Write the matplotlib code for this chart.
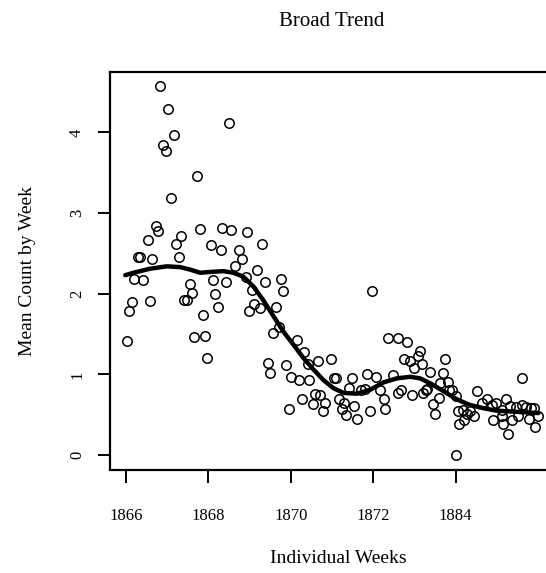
import matplotlib
import matplotlib.pyplot as plt

matplotlib.use('Agg')

plt.rcParams['font.family'] = ['Liberation Serif', 'DejaVu Serif']

# weekly means (x in years, y = mean count)
week_x = [1866.02, 1866.07, 1866.15, 1866.20, 1866.28, 1866.35, 1866.40, 1866.53, 1866.58, 1866.64,
          1866.72, 1866.78, 1866.83, 1866.90, 1866.97, 1867.03, 1867.09, 1867.17, 1867.22, 1867.29,
          1867.34, 1867.41, 1867.48, 1867.54, 1867.61, 1867.66, 1867.72, 1867.79, 1867.86, 1867.92,
          1867.97, 1868.05, 1868.10, 1868.17, 1868.24, 1868.31, 1868.34, 1868.43, 1868.49, 1868.55,
          1868.65, 1868.75, 1868.82, 1868.90, 1868.94, 1868.99, 1869.05, 1869.11, 1869.18, 1869.25,
          1869.31, 1869.38, 1869.45, 1869.50, 1869.56, 1869.63, 1869.72, 1869.76, 1869.81, 1869.88,
          1869.95, 1870.01, 1870.15, 1870.21, 1870.27, 1870.33, 1870.41, 1870.45, 1870.53, 1870.58,
          1870.65, 1870.71, 1870.77, 1870.84, 1870.97, 1871.05, 1871.10, 1871.16, 1871.23, 1871.28,
          1871.35, 1871.42, 1871.48, 1871.54, 1871.60, 1871.71, 1871.79, 1871.84, 1871.92, 1871.98,
          1872.07, 1872.16, 1872.25, 1872.28, 1872.36, 1872.49, 1872.59, 1872.59, 1872.67, 1872.75,
          1872.82, 1872.89, 1872.94, 1873.00, 1873.08, 1873.14, 1873.19, 1873.22, 1873.27, 1873.31,
          1873.39, 1873.44, 1873.51, 1873.59, 1873.62, 1873.70, 1873.75, 1873.81, 1873.84, 1873.92,
          1874.00, 1874.01, 1874.07, 1874.08, 1874.18, 1874.21, 1874.27, 1874.36, 1874.45, 1874.52,
          1874.64, 1874.76, 1874.88, 1874.90, 1874.98, 1875.12, 1875.12, 1875.14, 1875.22, 1875.28,
          1875.31, 1875.36, 1875.47, 1875.51, 1875.60, 1875.62, 1875.72, 1875.79, 1875.82, 1875.91,
          1875.93, 1876.01]
week_y = [1.41, 1.78, 1.90, 2.18, 2.45, 2.45, 2.17, 2.67, 1.91, 2.43,
          2.84, 2.78, 4.58, 3.84, 3.77, 4.29, 3.19, 3.97, 2.62, 2.46,
          2.72, 1.92, 1.92, 2.12, 2.01, 1.46, 3.46, 2.80, 1.73, 1.48,
          1.20, 2.61, 2.17, 2.00, 1.83, 2.54, 2.81, 2.14, 4.12, 2.79,
          2.35, 2.54, 2.43, 2.21, 2.76, 1.78, 2.05, 1.87, 2.30, 1.82,
          2.62, 2.14, 1.14, 1.02, 1.51, 1.84, 1.59, 2.18, 2.04, 1.11,
          0.57, 0.97, 1.43, 0.93, 0.69, 1.28, 1.13, 0.93, 0.63, 0.76,
          1.17, 0.74, 0.55, 0.65, 1.19, 0.96, 0.95, 0.69, 0.57, 0.64,
          0.50, 0.83, 0.96, 0.61, 0.45, 0.80, 0.82, 1.01, 0.55, 2.04,
          0.97, 0.80, 0.69, 0.57, 1.45, 0.99, 0.77, 1.45, 0.80, 1.19,
          1.40, 1.16, 0.75, 1.08, 1.23, 1.29, 1.13, 0.77, 0.80, 0.82,
          1.03, 0.63, 0.51, 0.71, 0.89, 1.02, 1.19, 0.91, 0.80, 0.80,
          0.73, 0.00, 0.55, 0.39, 0.56, 0.44, 0.51, 0.54, 0.48, 0.79,
          0.64, 0.69, 0.62, 0.44, 0.64, 0.56, 0.48, 0.38, 0.70, 0.26,
          0.61, 0.43, 0.60, 0.48, 0.95, 0.62, 0.60, 0.45, 0.58, 0.58,
          0.35, 0.48]

# smoothed trend
trend_x = [1865.98, 1866.18, 1866.58, 1866.99, 1867.31, 1867.55, 1867.80, 1868.04, 1868.36, 1868.61,
           1868.85, 1869.09, 1869.33, 1869.58, 1869.82, 1870.06, 1870.31, 1870.55, 1870.79, 1871.03,
           1871.28, 1871.60, 1871.93, 1872.25, 1872.57, 1872.90, 1873.14, 1873.38, 1873.71, 1874.03,
           1874.35, 1874.68, 1874.99, 1875.32, 1875.65, 1876.01]
trend_y = [2.23, 2.26, 2.31, 2.34, 2.33, 2.30, 2.26, 2.27, 2.28, 2.26,
           2.21, 2.09, 1.92, 1.72, 1.53, 1.37, 1.20, 1.06, 0.93, 0.83,
           0.77, 0.76, 0.81, 0.90, 0.95, 0.97, 0.95, 0.89, 0.79, 0.69,
           0.62, 0.58, 0.55, 0.54, 0.53, 0.52]

x_ticks = [1866, 1868, 1870, 1872, 1874]
x_labels = ['1866', '1868', '1870', '1872', '1884']
y_ticks = [0, 1, 2, 3, 4]

fig = plt.figure(figsize=(5.46, 5.73), dpi=100)
ax = fig.add_axes([110/546, 1 - 469.5/573, (566-110)/546, (469.5-72)/573])

ax.plot(week_x, week_y, 'o', mfc='none', mec='black', ms=6.8, mew=1.1)
ax.plot(trend_x, trend_y, color='black', lw=3.2, solid_joinstyle='round', solid_capstyle='round')

ax.set_xlim(1865.61, 1876.68)
ax.set_ylim(-0.18, 4.75)
ax.set_xticks(x_ticks)
ax.set_xticklabels(x_labels, fontsize=12)
ax.set_yticks(y_ticks)
ax.set_yticklabels([str(t) for t in y_ticks], fontsize=12, rotation=90, va='center')
ax.tick_params(length=9, width=1.4)
ax.tick_params(axis='x', pad=19)
ax.tick_params(axis='y', pad=9)
for s in ax.spines.values():
    s.set_linewidth(1.6)

ax.set_xlabel('Individual Weeks', fontsize=14, labelpad=18.5)
ax.set_ylabel('Mean Count by Week', fontsize=14, labelpad=23.5)
fig.text(332/546, 1 - 22/573, 'Broad Trend', fontsize=15, ha='center', va='center')

fig.savefig('out.png', dpi=100)
